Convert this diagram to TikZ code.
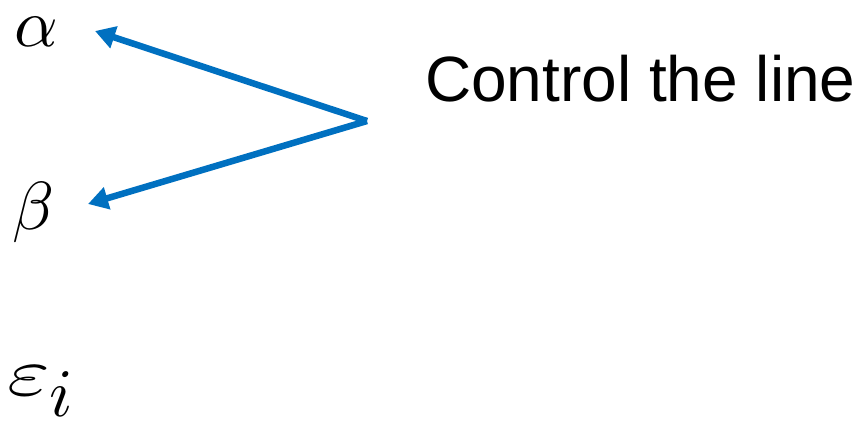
\documentclass[tikz,border=0pt]{standalone}
\usepackage{graphicx}
\usepackage{unicode-math}
\setmainfont{Liberation Sans}
\setmathfont{Latin Modern Math}
\usetikzlibrary{arrows.meta}
\definecolor{lineblue}{HTML}{0070C0}
\tikzset{
  sym/.style={anchor=base west, inner sep=0pt, font=\fontsize{68}{80}\selectfont},
  label/.style={anchor=base west, inner sep=0pt, font=\fontsize{64}{76}\selectfont},
  ctrl/.style={draw=lineblue, line width=6.5pt, -{Triangle[length=20pt, width=22pt]}}
}
\begin{document}
\begin{tikzpicture}[x=1pt, y=-1pt]
  \useasboundingbox (0,0) rectangle (859,421);
  % symbols in the left column
  \node[sym] (alpha) at (14,46) {$\alpha$};
  \node[sym] (beta) at (12,229) {$\beta$};
  \node[sym] (eps) at (7,395) {$\scalebox{1.35}[1]{$\varepsilon$}_{\textstyle i}$};
  % caption
  \node[label] (txt) at (425,101) {Control the line};
  % two arrows leaving one point
  \coordinate (hub) at (367,121);
  \coordinate (ta) at (95,31);
  \coordinate (tb) at (88,204);
  \draw[ctrl] (hub) -- (ta);
  \draw[ctrl] (hub) -- (tb);
\end{tikzpicture}
\end{document}
